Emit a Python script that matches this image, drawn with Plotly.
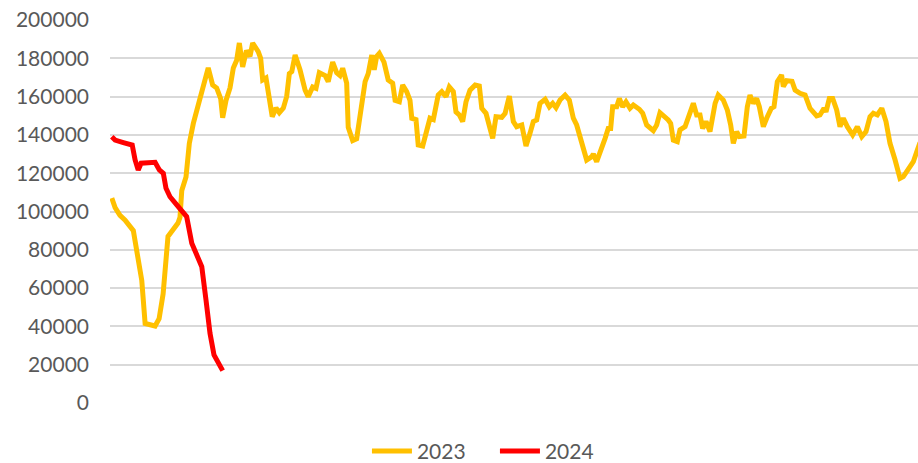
import plotly.graph_objects as go

# Day-of-year positions and values
days_2023 = [0.8, 2.3, 4.5, 6.8, 10.5, 12.0, 14.3, 15.8, 20.3, 22.1, 23.9, 26.1, 30.6, 31.5, 32.3, 34.2,
             35.7, 37.5, 40.5, 44.2, 46.2, 48.0, 49.8, 50.7, 52.2, 54.0, 55.5, 57.0, 58.2, 59.7, 61.4, 63.0,
             64.2, 66.7, 67.8, 68.7, 70.2, 71.7, 73.0, 74.7, 76.2, 78.0, 79.5, 80.7, 81.8, 83.3, 85.5, 87.8,
             89.2, 91.2, 92.7, 94.2, 96.8, 98.2, 100.2, 102.0, 103.5, 104.7, 106.5, 107.2, 109.2, 111.0,
             112.5, 114.8, 116.2, 117.8, 118.9, 120.0, 121.2, 123.3, 125.2, 127.2, 128.3, 130.2, 131.7,
             133.5, 135.0, 135.8, 137.7, 138.7, 140.7, 141.8, 144.0, 145.5, 147.7, 149.3, 151.2, 152.7,
             154.5, 155.7, 157.2, 158.7, 160.2, 162.0, 164.3, 166.2, 167.3, 169.2, 171.0, 172.2, 173.7,
             176.3, 177.8, 179.7, 181.5, 183.0, 185.3, 187.2, 189.0, 190.5, 192.0, 193.5, 195.8, 197.7,
             199.2, 200.7, 202.5, 204.8, 206.7, 208.5, 210.0, 212.3, 214.5, 216.8, 217.5, 219.0, 221.3,
             222.8, 224.2, 225.3, 226.2, 228.0, 229.2, 230.7, 232.2, 234.0, 235.5, 238.2, 239.7, 241.5,
             244.5, 246.0, 247.5, 249.8, 251.2, 252.3, 253.5, 255.3, 256.5, 258.8, 261.0, 262.5, 264.0,
             265.5, 266.7, 268.2, 270.0, 272.3, 273.7, 276.0, 277.8, 279.3, 280.5, 282.0, 283.2, 285.3,
             286.8, 288.0, 289.5, 291.0, 292.2, 294.0, 295.5, 297.6, 298.8, 300.3, 302.2, 303.0, 304.5,
             306.9, 308.3, 310.5, 312.8, 315.0, 318.0, 319.5, 321.3, 322.2, 323.7, 325.2, 327.0, 328.5,
             330.0, 331.8, 334.2, 336.3, 338.3, 340.2, 342.0, 343.5, 345.3, 347.3, 349.2, 351.0, 353.3,
             355.5, 357.0, 359.2, 361.5, 363.3, 364.5]
vals_2023 = [107, 102, 98, 95.5, 90, 78, 64, 41.5, 40.2, 44, 57, 87, 94, 97, 111, 118,
             135.6, 146, 159, 175, 166, 164.5, 159, 149, 158, 164.5, 175, 179, 188, 175.5, 184, 181,
             188, 183.5, 180, 168.7, 169.7, 158, 149.5, 154, 151.6, 154, 160, 172, 173, 181.7, 174, 163.4,
             160, 165, 164.3, 172.5, 171, 167.8, 178, 172.5, 171, 174.8, 167, 144, 137, 138,
             149.5, 167.8, 172, 181.7, 174, 181, 182.6, 178, 168.7, 167, 158, 157.3, 166,
             162.6, 158, 148.7, 148, 134.7, 134.2, 139, 148.7, 148, 160.8, 162.6, 160, 165,
             162.6, 152, 150.4, 147, 157.3, 163.4, 166, 165.5, 153.9, 151.3, 144.3,
             138.2, 149.5, 149.2, 151.3, 160.3, 147, 144.3, 145.2, 134.2, 140.8, 147, 147.8,
             156.5, 158.6, 154.7, 156.5, 154.2, 158.2, 160.8, 158.2, 148.7, 145.2, 135.6, 126.9, 128.6,
             130, 126, 134.7, 138.2, 143.4, 143.4, 154.7, 154.7, 159, 154.7, 157.3, 153.9, 155.6,
             153.4, 151.3, 145.2, 142.2, 145.2, 151.6, 149.5, 147.8, 146, 137.3, 136.5, 142.6, 144.3,
             152, 156.5, 150.4, 150.4, 143.4, 147, 141.7, 156.5, 160.8, 158.2, 153, 145.2, 135.6,
             141.7, 139.1, 139.4, 154.7, 160.8, 156.5, 159, 154.7, 144.3, 148.7, 153.9, 154.7,
             167.8, 171.3, 165.2, 168.3, 168, 163.4, 161.7, 160.8, 153.9, 149.9, 150.4, 153.9, 152,
             159, 159, 153, 144.3, 148.7, 144.3, 140, 144.3, 139.1, 141.7, 149.5, 151.3, 150.4,
             153.9, 147, 135.6, 126.9, 117.3, 118.2, 122.6, 126, 132.1, 136]

days_2024 = [0.8, 2.3, 6.0, 10.0, 11.3, 12.7, 14.0, 20.3, 22.2, 24.0, 25.2, 27.0, 30.7, 34.5, 36.8,
             39.0, 41.3, 43.2, 45.0, 46.8, 50.7]
vals_2024 = [139, 137.3, 136, 134.7, 126.9, 121.7, 125.2, 125.7, 121.7, 119.9, 112.1, 107.7, 102.5,
             97.3, 83.4, 77.3, 71.2, 53.8, 36.4, 25.1, 16.9]

y_ticks = [0, 20000, 40000, 60000, 80000, 100000, 120000, 140000, 160000, 180000, 200000]

fig = go.Figure()
fig.add_trace(go.Scatter(x=days_2023, y=[v * 1000 for v in vals_2023], mode="lines", name="2023",
                         line=dict(color="#FFC000", width=5)))
fig.add_trace(go.Scatter(x=days_2024, y=[v * 1000 for v in vals_2024], mode="lines", name="2024",
                         line=dict(color="#FF0000", width=5)))

fig.update_layout(
    width=918, height=463,
    margin=dict(l=110, r=0, t=20, b=60, autoexpand=False),
    paper_bgcolor="white", plot_bgcolor="white",
    font=dict(family="Lato, 'Open Sans', sans-serif", size=21, color="#595959"),
    showlegend=True,
    legend=dict(orientation="h", x=0.318, y=-0.126, xanchor="left", yanchor="middle",
                font=dict(size=21, color="#595959"), itemwidth=40, tracegroupgap=0,
                entrywidth=73, bgcolor="rgba(0,0,0,0)"),
    xaxis=dict(range=[0, 363.6], showgrid=False, showticklabels=False, zeroline=False,
               showline=False, ticks=""),
    yaxis=dict(range=[0, 200000], tickvals=y_ticks, ticktext=[str(t) for t in y_ticks],
               showgrid=True, gridcolor="#D9D9D9", gridwidth=1.5, zeroline=False,
               showline=False, ticks="", ticklabelstandoff=20),
)

fig.write_html("out.html", config={"displayModeBar": False},
               post_script="document.body.style.margin='0px';")
